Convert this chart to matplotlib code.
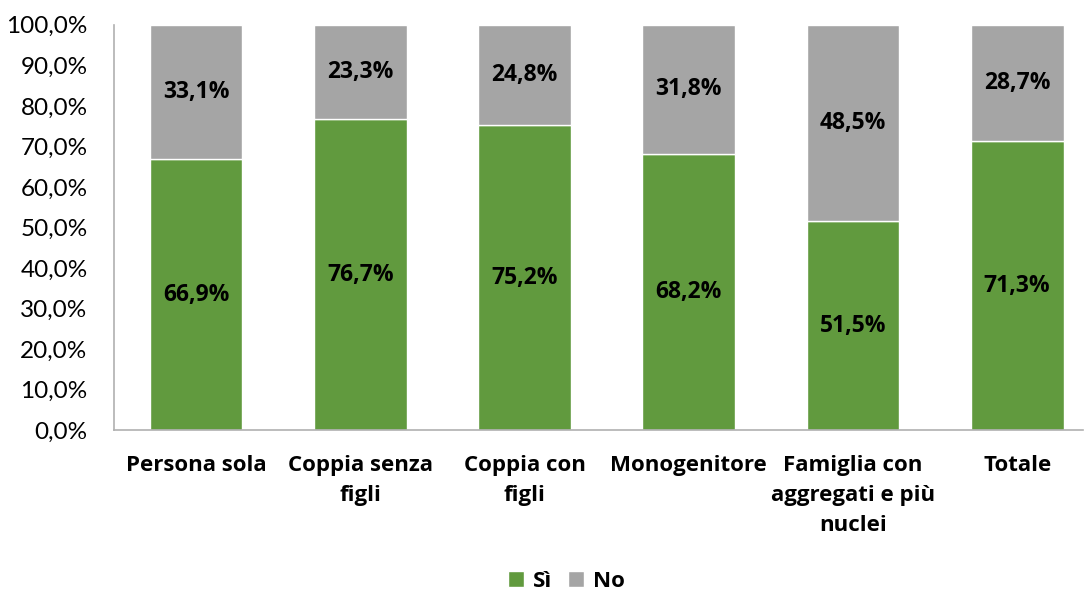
import matplotlib
matplotlib.use("Agg")
import matplotlib.pyplot as plt
from matplotlib.ticker import FuncFormatter

plt.rcParams["font.family"] = ["Lato", "DejaVu Sans"]
bold_font = ["Open Sans", "DejaVu Sans"]

categories = ["Persona sola", "Coppia senza\nfigli", "Coppia con\nfigli", "Monogenitore",
              "Famiglia con\naggregati e più\nnuclei", "Totale"]
si_vals = [66.9, 76.7, 75.2, 68.2, 51.5, 71.3]
no_vals = [33.1, 23.3, 24.8, 31.8, 48.5, 28.7]

green = "#619a3e"
gray = "#a5a5a5"

fig = plt.figure(figsize=(10.85, 5.9), dpi=100)
ax = fig.add_axes([0.105, 0.271, 0.893, 0.687])

x = list(range(len(categories)))
ax.bar(x, si_vals, width=0.565, color=green, edgecolor="white", linewidth=1, label="Sì")
ax.bar(x, no_vals, width=0.565, bottom=si_vals, color=gray, edgecolor="white", linewidth=1, label="No")

def fmt(v):
    return f"{v:.1f}%".replace(".", ",")

# data labels in the middle of each segment
for i in x:
    ax.text(i, si_vals[i] / 2, fmt(si_vals[i]), ha="center", va="center",
            fontsize=16.5, fontweight="bold", family=bold_font, color="black")
    ax.text(i, si_vals[i] + no_vals[i] / 2, fmt(no_vals[i]), ha="center", va="center",
            fontsize=16.5, fontweight="bold", family=bold_font, color="black")

ax.set_ylim(0, 100)
ax.set_xlim(-0.5, 5.4)
ax.set_yticks(range(0, 101, 10))
ax.yaxis.set_major_formatter(FuncFormatter(lambda v, p: fmt(v)))
ax.set_xticks(x)
ax.set_xticklabels(categories, fontsize=16, fontweight="bold", family=bold_font,
                   linespacing=1.55, va="top")
ax.tick_params(axis="y", labelsize=17.5, length=0, pad=19)
ax.tick_params(axis="x", length=0, pad=18)

for s in ["top", "right"]:
    ax.spines[s].set_visible(False)
ax.spines["left"].set_color("#b0b0b0")
ax.spines["bottom"].set_color("#b0b0b0")
ax.spines["left"].set_linewidth(1.2)
ax.spines["bottom"].set_linewidth(1.2)

fig.legend(loc="center", bbox_to_anchor=(0.522, 0.015), ncol=2, frameon=False,
           prop={"size": 16, "weight": "bold", "family": bold_font}, handlelength=0.75,
           handleheight=0.75, handletextpad=0.4, columnspacing=0.7)

fig.savefig("out.png", dpi=100)
